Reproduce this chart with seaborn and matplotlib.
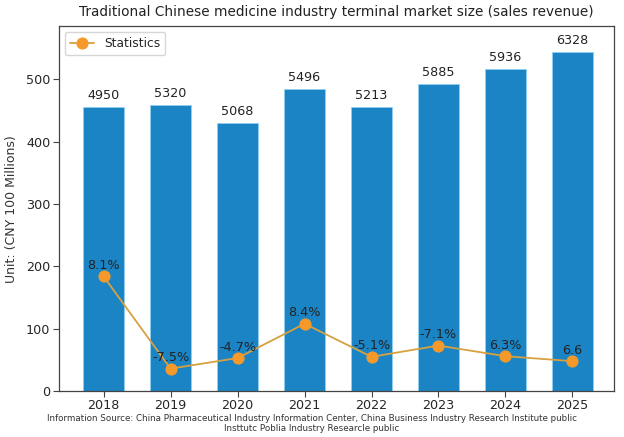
import matplotlib
matplotlib.use("Agg")
import matplotlib.pyplot as plt
import seaborn as sns
import pandas as pd

years = ["2018", "2019", "2020", "2021", "2022", "2023", "2024", "2025"]
bar_heights = [455, 459, 430, 485, 455, 493, 517, 543]
bar_labels = ["4950", "5320", "5068", "5496", "5213", "5885", "5936", "6328"]
line_values = [184, 36, 53, 108, 55, 73, 56, 48]
line_labels = ["8.1%", "-7.5%", "-4.7%", "8.4%", "-5.1%", "-7.1%", "6.3%", "6.6"]

title = "Traditional Chinese medicine industry terminal market size (sales revenue)"
ylabel = "Unit: (CNY 100 Millions)"
source1 = "Information Source: China Pharmaceutical Industry Information Center, China Business Industry Research Institute public"
source2 = "Insttutc Poblia Industry Researcle public"

sns.set_style("white")
plt.rcParams['font.family'] = ['DejaVu Sans']

df = pd.DataFrame({"year": years, "bar": bar_heights, "line": line_values})

fig = plt.figure(figsize=(6.24, 4.37), dpi=100)
ax = fig.add_axes([0.094, 0.105, 0.89, 0.835])

sns.barplot(data=df, x="year", y="bar", color="#1b84c4", saturation=1,
            width=0.62, edgecolor="#8fd0f0", linewidth=0.6, ax=ax)
sns.lineplot(data=df, x="year", y="line", color="#d7a040", linewidth=1.3,
             marker="o", markersize=8, markerfacecolor="#f59a2a",
             markeredgecolor="#f59a2a", label="Statistics", ax=ax)

for i, (h, t) in enumerate(zip(bar_heights, bar_labels)):
    ax.text(i, h + 8, t, ha="center", va="bottom", fontsize=9.2, color="#222222")
for i, (v, t) in enumerate(zip(line_values, line_labels)):
    ax.text(i, v + 7, t, ha="center", va="bottom", fontsize=9.2, color="#222222")

ax.set_xlim(-0.67, 7.62)
ax.set_ylim(0, 585)
ax.set_yticks([0, 100, 200, 300, 400, 500])
ax.set_xlabel("")
ax.set_ylabel(ylabel, fontsize=9, color="#333333", labelpad=6)
ax.set_title(title, fontsize=9.8, color="#222222", pad=7)
ax.tick_params(axis="both", labelsize=9.2, length=4, pad=2, color="#444444", left=True, bottom=True)
for s in ax.spines.values():
    s.set_color("#444444")
    s.set_linewidth(0.9)

leg = ax.legend(loc="upper left", fontsize=8.8, frameon=True)
leg.get_frame().set_edgecolor("#cccccc")

fig.text(0.5, 0.043, source1, ha="center", va="center", fontsize=6.3, color="#333333")
fig.text(0.5, 0.019, source2, ha="center", va="center", fontsize=6.3, color="#333333")

fig.savefig("out.png", dpi=100)
